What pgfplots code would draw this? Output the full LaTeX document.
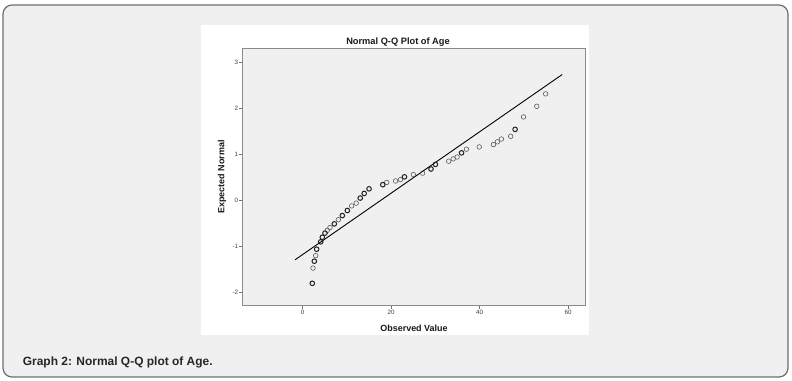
\documentclass[border=0pt]{standalone}
\usepackage{pgfplots}
\pgfplotsset{compat=1.18}
\usepackage{fontspec}
\setmainfont{Liberation Sans}
\definecolor{cardbg}{HTML}{F0F0F0}
\definecolor{cardborder}{HTML}{6E6E6E}
\definecolor{plotbg}{HTML}{F0F0F0}
\definecolor{framegray}{HTML}{8A8A8A}
\definecolor{markgray}{HTML}{5A5A5A}
\definecolor{markdark}{HTML}{222222}
\begin{document}
\begin{tikzpicture}[x=1bp,y=1bp]
\path[use as bounding box] (0,0) rectangle (792,380);
\draw[cardborder, line width=1.2bp, fill=cardbg, rounded corners=9bp] (3,3) rectangle (788,375);
\fill[white] (201,45) rectangle (589,355);
\node[anchor=west, inner sep=0pt, font=\fontsize{12}{14}\selectfont\bfseries, text=black!85] at (22.7,17.3) {Graph 2: Normal Q-Q plot of Age.};
\node[font=\fontsize{9.3}{11}\selectfont\bfseries, text=black!90] at (398,338.3) {Normal Q-Q Plot of Age};
\node[font=\fontsize{9}{11}\selectfont\bfseries, text=black!90] at (414,52) {Observed Value};
\node[rotate=90, font=\fontsize{9}{11}\selectfont\bfseries, text=black!90] at (222,203) {Expected Normal};
\begin{axis}[
  at={(242.7bp,75bp)}, anchor=south west,
  scale only axis, width=342.3bp, height=256.3bp,
  xmin=-13.55, xmax=63.8, ymin=-2.27, ymax=3.29,
  axis background/.style={fill=plotbg},
  axis line style={framegray, line width=1bp},
  xtick={0,20,40,60}, ytick={-2,-1,0,1,2,3},
  xtick pos=left, ytick pos=left,
  tick align=outside, major tick length=3.5bp,
  tick style={black!55, line width=0.5bp},
  ticklabel style={font=\fontsize{6.3}{7}\selectfont, text=black!75},
  xticklabel style={inner sep=1.5bp},
  yticklabel style={inner sep=0.8bp},
  /pgf/number format/assume math mode=true,
]
\addplot[black, line width=0.9bp] coordinates {(-1.73,-1.29) (58.65,2.73)};
\addplot[only marks, mark=o, mark size=2.3bp, mark options={markgray, line width=0.6bp}] coordinates {
(2.33,-1.47) (2.94,-1.20) (5.57,-0.65) (6.17,-0.59) (8.06,-0.42) (11.07,-0.12) (12.1,-0.06)
(19.0,0.39) (21.0,0.42) (22.1,0.45) (25.0,0.56) (27.1,0.59) (33.0,0.85) (34.0,0.90) (34.9,0.94)
(37.0,1.11) (39.9,1.16) (43.1,1.21) (44.0,1.27) (44.9,1.33) (47.0,1.39) (49.9,1.81) (52.9,2.04) (54.9,2.31)
};
\addplot[only marks, mark=o, mark size=2.3bp, mark options={markdark, line width=1bp}] coordinates {
(2.18,-1.80) (2.63,-1.32) (3.16,-1.06) (4.07,-0.90) (4.44,-0.80) (5.04,-0.71) (7.15,-0.51)
(8.96,-0.33) (10.09,-0.22) (13.0,0.05) (13.9,0.15) (15.0,0.25) (18.1,0.34) (23.0,0.51)
(29.0,0.68) (30.0,0.78) (35.9,1.03) (48.0,1.54)
};
\end{axis}
\end{tikzpicture}
\end{document}
